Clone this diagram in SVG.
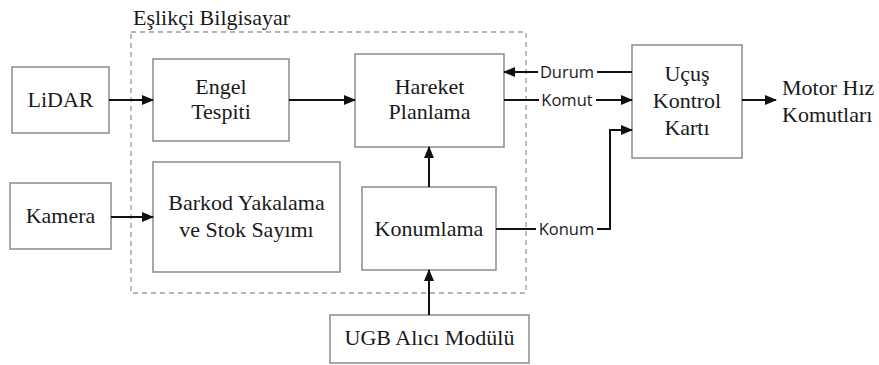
<svg xmlns="http://www.w3.org/2000/svg" width="879" height="365" viewBox="0 0 879 365">
<style>
.box{fill:#fff;stroke:#8a8a8a;stroke-width:1.5}
.t{font-family:"Liberation Serif","Times New Roman",serif;font-size:22px;fill:#1a1a1a;text-anchor:middle}
.ts{text-anchor:start}
.lbl{font-family:"Open Sans","Liberation Sans",sans-serif;font-size:16.5px;fill:#1a1a1a;text-anchor:middle}
.c{fill:none;stroke:#111;stroke-width:2}
</style>
<defs>
<marker id="ah" markerWidth="12" markerHeight="10" refX="11" refY="5" orient="auto" markerUnits="userSpaceOnUse">
<path d="M0,0 L12,5 L0,10 z" fill="#111"/>
</marker>
</defs>
<rect width="879" height="365" fill="#fff"/>
<g id="container">
<rect x="131" y="32" width="395" height="261" fill="none" stroke="#9a9a9a" stroke-width="1.3" stroke-dasharray="5,4"/>
<text x="133" y="25" class="t ts">Eşlikçi Bilgisayar</text>
</g>
<g id="lidar"><rect class="box" x="12" y="67" width="97" height="66"/><text class="t" x="60.5" y="107">LiDAR</text></g>
<g id="engel"><rect class="box" x="153" y="59" width="136" height="82"/><text class="t" x="221" y="94">Engel</text><text class="t" x="221" y="119">Tespiti</text></g>
<g id="hareket"><rect class="box" x="355" y="54" width="149" height="93"/><text class="t" x="429.5" y="94">Hareket</text><text class="t" x="429.5" y="119">Planlama</text></g>
<g id="ucus"><rect class="box" x="632" y="45" width="110" height="113"/><text class="t" x="687" y="81">Uçuş</text><text class="t" x="687" y="108">Kontrol</text><text class="t" x="687" y="135">Kartı</text></g>
<g id="motor"><text class="t ts" x="782" y="95">Motor Hız</text><text class="t ts" x="782" y="122">Komutları</text></g>
<g id="kamera"><rect class="box" x="10" y="183" width="101" height="66"/><text class="t" x="60.5" y="223">Kamera</text></g>
<g id="barkod"><rect class="box" x="153" y="162" width="187" height="110"/><text class="t" x="246.5" y="210">Barkod Yakalama</text><text class="t" x="246.5" y="237">ve Stok Sayımı</text></g>
<g id="konumlama"><rect class="box" x="362" y="187" width="134" height="83"/><text class="t" x="429" y="236">Konumlama</text></g>
<g id="ugb"><rect class="box" x="330" y="315" width="199" height="48"/><text class="t" x="429.5" y="345">UGB Alıcı Modülü</text></g>
<g id="connectors">
<line class="c" x1="109" y1="100" x2="153" y2="100" marker-end="url(#ah)"/>
<line class="c" x1="289" y1="100" x2="355" y2="100" marker-end="url(#ah)"/>
<line class="c" x1="111" y1="217" x2="153" y2="217" marker-end="url(#ah)"/>
<line class="c" x1="429" y1="187" x2="429" y2="147" marker-end="url(#ah)"/>
<line class="c" x1="429" y1="315" x2="429" y2="270" marker-end="url(#ah)"/>
<line class="c" x1="742" y1="100" x2="776" y2="100" marker-end="url(#ah)"/>
<line class="c" x1="632" y1="72" x2="597" y2="72"/>
<line class="c" x1="538" y1="72" x2="504" y2="72" marker-end="url(#ah)"/>
<text class="lbl" x="567" y="78">Durum</text>
<line class="c" x1="504" y1="100" x2="539" y2="100"/>
<line class="c" x1="596" y1="100" x2="632" y2="100" marker-end="url(#ah)"/>
<text class="lbl" x="567" y="106">Komut</text>
<line class="c" x1="496" y1="229" x2="536" y2="229"/>
<polyline class="c" points="597,229 610,229 610,130 632,130" marker-end="url(#ah)"/>
<text class="lbl" x="566.5" y="235">Konum</text>
</g>
</svg>
